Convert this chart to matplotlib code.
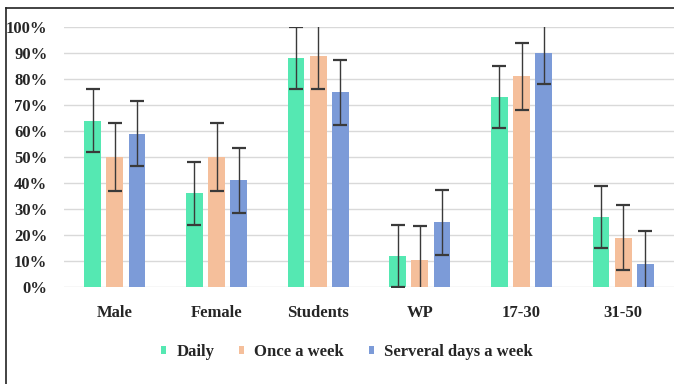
import matplotlib
matplotlib.use("Agg")
import matplotlib.pyplot as plt
import numpy as np
from matplotlib.patches import Patch
from matplotlib.lines import Line2D
from matplotlib.ticker import FuncFormatter, MultipleLocator

categories = ["Male", "Female", "Students", "WP", "17-30", "31-50"]
series_names = ["Daily", "Once a week", "Serveral days a week"]
daily = [64, 36, 88, 12, 73, 27]
once_a_week = [50, 50, 89, 10.5, 81, 19]
several_days = [59, 41, 75, 25, 90, 9]
daily_err = [12, 12, 12, 12, 12, 12]
once_err = [13, 13, 13, 13, 13, 12.5]
several_err = [12.5, 12.5, 12.5, 12.5, 12, 12.5]

colors = ["#55E8B2", "#F5BF9B", "#7C9BD8"]
text_color = "#262626"

plt.rcParams["font.family"] = ["Liberation Serif", "DejaVu Serif"]
plt.rcParams["font.weight"] = "bold"

fig = plt.figure(figsize=(6.74, 3.84), dpi=100)
ax = fig.add_axes([64 / 674, 1 - 287 / 384, 610 / 674, 260 / 384])

x = np.arange(len(categories))
width = 0.165
step = 0.217
values = [daily, once_a_week, several_days]
errs = [daily_err, once_err, several_err]
for i, (vals, err, col) in enumerate(zip(values, errs, colors)):
    pos = x + (i - 1) * step
    ax.bar(pos, vals, width=width, color=col, zorder=2)
    ax.errorbar(pos, vals, yerr=err, fmt="none", ecolor="#3a3a3a",
                elinewidth=1.0, capsize=5, capthick=1.6, zorder=3)

ax.set_xlim(-0.5, len(categories) - 0.5)
ax.set_ylim(0, 100)
ax.yaxis.set_major_locator(MultipleLocator(10))
ax.yaxis.set_major_formatter(FuncFormatter(lambda v, _: f"{v:.0f}%"))
ax.set_xticks(x)
ax.set_xticklabels(categories)
ax.grid(axis="y", color="#D9D9D9", linewidth=1.0, zorder=0)
ax.set_axisbelow(True)
for s in ax.spines.values():
    s.set_visible(False)
ax.tick_params(axis="both", length=0, labelsize=12, colors=text_color)
ax.tick_params(axis="y", pad=12)
ax.tick_params(axis="x", pad=13)
for lab in ax.get_xticklabels() + ax.get_yticklabels():
    lab.set_fontweight("bold")

handles = [Patch(facecolor=c, edgecolor="none") for c in colors]
fig.legend(handles, series_names, loc="center", bbox_to_anchor=(0.515, 1 - 352 / 384),
           ncol=3, frameon=False, handlelength=0.3, handleheight=0.3,
           handletextpad=0.6, columnspacing=1.5,
           prop={"size": 12, "weight": "bold"}, labelcolor=text_color)

# outer frame on the left and top edges
fig.add_artist(Line2D([5.5 / 674, 5.5 / 674], [0, 1 - 7.5 / 384], color="#222222",
                      linewidth=1.2, transform=fig.transFigure))
fig.add_artist(Line2D([5.5 / 674, 1], [1 - 7.5 / 384, 1 - 7.5 / 384], color="#222222",
                      linewidth=1.2, transform=fig.transFigure))

fig.savefig("out.png", dpi=100)
